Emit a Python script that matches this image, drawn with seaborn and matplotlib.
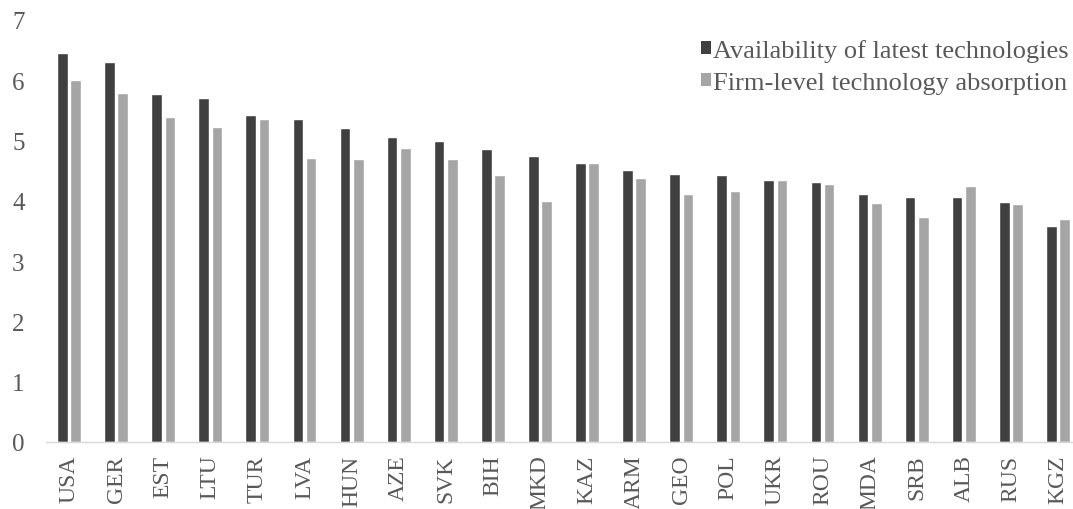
import matplotlib
matplotlib.use("Agg")
import matplotlib.pyplot as plt
import seaborn as sns
import pandas as pd
from matplotlib.patches import Rectangle

countries = ["USA", "GER", "EST", "LTU", "TUR", "LVA", "HUN", "AZE", "SVK", "BIH", "MKD",
             "KAZ", "ARM", "GEO", "POL", "UKR", "ROU", "MDA", "SRB", "ALB", "RUS", "KGZ"]
availability = [6.45, 6.31, 5.77, 5.70, 5.43, 5.36, 5.20, 5.06, 4.99, 4.86, 4.75,
                 4.63, 4.51, 4.45, 4.43, 4.35, 4.31, 4.12, 4.07, 4.07, 3.98, 3.58]
absorption = [6.01, 5.79, 5.39, 5.23, 5.36, 4.71, 4.69, 4.88, 4.69, 4.42, 3.99,
              4.63, 4.37, 4.11, 4.16, 4.35, 4.28, 3.96, 3.73, 4.25, 3.94, 3.70]
series_names = ["Availability of latest technologies", "Firm-level technology absorption"]
series_colors = ["#404040", "#A5A5A5"]
y_ticks = [0, 1, 2, 3, 4, 5, 6, 7]

df = pd.DataFrame({
    "country": countries * 2,
    "value": availability + absorption,
    "series": [series_names[0]] * len(countries) + [series_names[1]] * len(countries),
})

sns.set_theme(style="white")
plt.rcParams["font.family"] = ["Liberation Serif", "DejaVu Serif"]
text_color = "#595959"

fig = plt.figure(figsize=(10.73, 5.10), dpi=100)
ax = fig.add_axes([45.5 / 1073, (510 - 443) / 510, (1081.5 - 45.5) / 1073, 422.1 / 510])

sns.barplot(data=df, x="country", y="value", hue="series", order=countries,
            hue_order=series_names, palette=series_colors, width=0.566, gap=0.2,
            saturation=1, legend=False, ax=ax)

ax.set_xlim(-0.5, len(countries) - 0.5)
ax.set_ylim(0, 7)
ax.set_yticks(y_ticks)
ax.set_xlabel("")
ax.set_ylabel("")

for side in ["left", "right", "top"]:
    ax.spines[side].set_visible(False)
ax.spines["bottom"].set_color("#D9D9D9")
ax.spines["bottom"].set_linewidth(1.0)

ax.tick_params(axis="y", length=0, pad=15, labelsize=18, labelcolor=text_color)
ax.tick_params(axis="x", length=0, pad=9, labelsize=17, labelcolor=text_color,
               labelrotation=90)

handles = [Rectangle((0, 0), 1, 1, facecolor=c, edgecolor="none") for c in series_colors]
leg = ax.legend(handles, series_names, loc="upper right",
                bbox_to_anchor=(1069 / 1073, 1 - 40 / 510), bbox_transform=fig.transFigure,
                frameon=False, fontsize=19, handlelength=0.38, handleheight=0.38,
                handletextpad=0.1, labelspacing=0.37, borderaxespad=0, borderpad=0)
for t in leg.get_texts():
    t.set_color(text_color)

fig.savefig("out.png", dpi=100)
